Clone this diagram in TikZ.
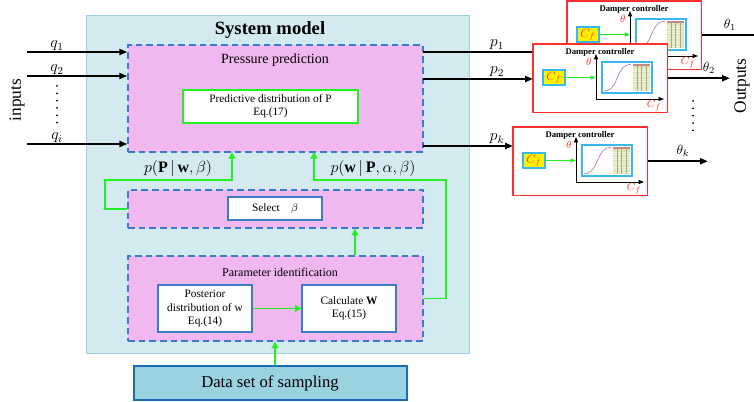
\documentclass[tikz,border=0pt]{standalone}
\usepackage{fontspec}
\setmainfont{Liberation Serif}
\usetikzlibrary{positioning,fit,calc,arrows.meta}
\definecolor{CSys}{HTML}{D2EAF0}
\definecolor{CSysLine}{HTML}{9CCFDB}
\definecolor{CPink}{HTML}{F0B8EE}
\definecolor{CDash}{HTML}{3A7CC6}
\definecolor{CGreen}{HTML}{22F022}
\definecolor{CRed}{HTML}{FF3030}
\definecolor{CData}{HTML}{9AD2E0}
\definecolor{CDataLine}{HTML}{1B6CB4}
\definecolor{CCyan}{HTML}{38B8EC}
\definecolor{CCurve}{HTML}{B07AB8}
\definecolor{CTable}{HTML}{DDE6B4}
\definecolor{CTableLine}{HTML}{F2F5DE}
\definecolor{CTableCol}{HTML}{A8A890}
\definecolor{CHead}{HTML}{C48A8A}

\tikzset{
  sysbox/.style={draw=CSysLine, fill=CSys, line width=0.6pt, inner sep=0pt},
  pinkbox/.style={draw=CDash, fill=CPink, dash pattern=on 5pt off 3pt, line width=1pt, inner sep=0pt},
  whitebox/.style={draw=CDash, fill=white, line width=0.8pt, align=center, inner sep=1pt,
    font=\fontsize{8.5}{10}\selectfont},
  sig/.style={-{Triangle[length=6pt,width=4.5pt]}, line width=1.5pt},
  fb/.style={CGreen, line width=1.4pt, -{Triangle[length=5pt,width=5pt]}},
  dampbox/.style={fill=white, anchor=north west,
    minimum width=100.5pt, minimum height=51pt, inner sep=0pt},
  cfbox/.style={draw=CCyan, fill=yellow, line width=0.8pt, minimum width=16.5pt,
    minimum height=11.25pt, inner sep=0pt, font=\fontsize{9}{9}\selectfont},
  axis/.style={-{Triangle[length=4pt,width=3pt]}, line width=0.7pt},
  lbl/.style={font=\fontsize{12}{12}\selectfont}
}

\begin{document}
\begin{tikzpicture}[x=0.75pt, y=-0.75pt]
  \useasboundingbox (0,0) rectangle (754,402);

  % system model frame and its three blocks
  \node[sysbox, fit={(86,15) (469,353)}] (sys) {};
  \node[font=\bfseries\fontsize{14}{14}\selectfont] (systitle) at (270,30) {System model};

  \node[pinkbox, fit={(128,45) (423,152)}] (press) {};
  \node[font=\fontsize{10.5}{12}\selectfont] (presstitle) at (275,60) {Pressure prediction};
  \node[whitebox, draw=CGreen, minimum width=131.25pt, minimum height=24.75pt] (pred) at (270.5,106.5)
    {Predictive distribution of P\\Eq.(17)};

  \node[pinkbox, fit={(128,190) (423,228)}] (sel) {};
  \node[whitebox, minimum width=70.5pt, minimum height=17.25pt] (selbeta) at (275,208.5)
    {Select\quad$\beta$};

  \node[pinkbox, fit={(128,256) (423,341)}] (param) {};
  \node[font=\fontsize{9}{10}\selectfont] (paramtitle) at (280,272) {Parameter identification};
  \node[whitebox, minimum width=70.5pt, minimum height=35.25pt] (post) at (205,308.5)
    {Posterior\\distribution of w\\Eq.(14)};
  \node[whitebox, minimum width=70.5pt, minimum height=35.25pt] (calc) at (349,308.5)
    {Calculate \textbf{W}\\Eq.(15)};

  \node[draw=CDataLine, fill=CData, line width=1.5pt, minimum width=204.75pt, minimum height=25.5pt,
    font=\fontsize{12.5}{13}\selectfont] (data) at (270,383) {Data set of sampling};

  % green links inside the model
  \coordinate (lbend) at (105,180);
  \coordinate (rbend) at (446,180);
  \coordinate (pin1) at (232,152);
  \coordinate (pin2) at (314,152);
  \draw[fb] (post.east) -- (calc.west);
  \draw[fb] ([xshift=3.75pt]data.north) -- ([xshift=3.75pt]data.north |- param.south);
  \draw[fb] ([xshift=59.6pt]param.north) -- ([xshift=59.6pt]param.north |- sel.south);
  \draw[fb] (sel.west) -| (lbend) -| (pin1);
  \draw[fb] (param.east) -| (rbend) -| (pin2);
  \node[lbl] (lblP) at (178,169) {$p(\mathbf{P}\,|\,\mathbf{w},\beta)$};
  \node[lbl] (lblW) at (373,169) {$p(\mathbf{w}\,|\,\mathbf{P},\alpha,\beta)$};

  % inputs
  \foreach \nm/\yy/\lab in {q1/52/q_1, q2/76/q_2, qi/144/q_i}{
    \coordinate (\nm) at (27,\yy);
    \draw[sig] (\nm) -- (\nm -| press.west);
    \node[lbl] (l\nm) at (57,\yy-6) {$\lab$};
  }
  \draw[line width=1.5pt, line cap=round, dash pattern=on 0pt off 5.5pt] (57,86) -- (57,128);
  \node[lbl, rotate=90, font=\fontsize{13}{13}\selectfont] (inputs) at (17,100) {inputs};

  % damper controllers, back to front
  \foreach \i/\bx/\by/\pin/\ex/\tx/\lab in {1/567/1/52/762/730/1, 2/533/44/79/730/709/2, 3/513/127/146/708/683/k}{
    \begin{scope}[shift={(\bx,\by)}]
      \node[dampbox] (damp\i) at (0,0) {};
      \node[font=\bfseries\fontsize{6.5}{6.5}\selectfont] (dtitle\i) at (67,8) {Damper controller};
      \node[cfbox] (cf\i) at (21,33.5) {\textcolor{CRed}{$C_f$}};
      \coordinate (org\i) at (63,55);
      \draw[axis] (org\i) -- (63,10);
      \draw[axis] (org\i) -- (131,55);
      \draw[CGreen, line width=0.8pt, -{Triangle[length=4pt,width=3pt]}] (cf\i.east) -- (cf\i.east -| org\i);
      \node[font=\fontsize{8}{8}\selectfont] (th\i) at (56,18) {\textcolor{CRed}{$\theta$}};
      \node[font=\fontsize{8}{8}\selectfont] (cfx\i) at (121,62) {\textcolor{CRed}{$C_f$}};
      % look-up curve and table
      \node[draw=CCyan, fill=white, line width=0.8pt, fit={(69,18) (119,49)}, inner sep=0pt] (plot\i) {};
      \draw[CCurve, line width=0.5pt] plot[smooth, domain=0:1, samples=20]
        ({71+27*\x},{47-27/(1+exp(-9*(\x-0.5)))});
      \fill[CTable] (100,20) rectangle (117,47);
      \fill[CHead] (100,20) rectangle (117,22.5);
      \foreach \r in {25,27.5,...,45}{\draw[CTableLine, line width=0.3pt] (100,\r) -- (117,\r);}
      \foreach \c in {104,108.5,113}{\draw[CTableCol, line width=0.3pt] (\c,22.5) -- (\c,47);}
      \draw[CRed, line width=1pt] (damp\i.north west) rectangle (damp\i.south east);
    \end{scope}
    \coordinate (pin\i) at (423,\pin);
    \draw[sig] (pin\i) -- (pin\i -| damp\i.west);
    \node[lbl] (lp\i) at (497,\pin-7) {$p_\lab$};
    \coordinate (out\i) at (\ex,0);
    \draw[sig] (damp\i.east) -- (damp\i.east -| out\i);
    \node[font=\fontsize{10}{10}\selectfont, anchor=south] (lth\i) at (damp\i.east -| \tx,0) {$\theta_\lab$};
  }
  \draw[line width=1.5pt, line cap=round, dash pattern=on 0pt off 5.5pt] (693,101) -- (693,132);
  \node[rotate=90, font=\fontsize{13}{13}\selectfont] (outputs) at (742,86) {Outputs};
\end{tikzpicture}
\end{document}
